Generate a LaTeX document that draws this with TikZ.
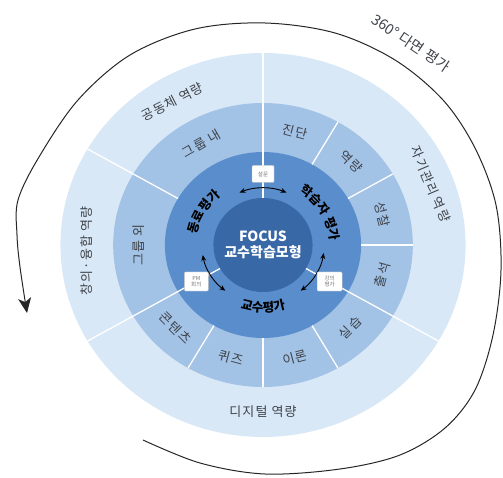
\documentclass[tikz,border=0pt]{standalone}
\usepackage{fontspec}
\setmainfont{Noto Sans CJK KR}
\newfontfamily\labelfont[LetterSpace=9]{Noto Sans CJK KR}
\usetikzlibrary{arrows.meta,decorations.text}
\definecolor{ringOut}{RGB}{217,232,247}
\definecolor{ringMid}{RGB}{162,194,230}
\definecolor{ringIn}{RGB}{90,141,204}
\definecolor{core}{RGB}{56,104,166}
\definecolor{labelGray}{RGB}{62,66,72}
\tikzset{divider/.style={draw=white,line width=1.3pt}}
\tikzset{ringLabel/.style={font=\labelfont\fontsize{13}{13}\selectfont,text=labelGray,inner sep=0pt}}
\tikzset{tagBox/.style={draw=black!25,fill=white,rounded corners=1pt,font=\fontsize{5.5}{6}\selectfont,text=black!55,align=center,inner sep=1.5pt,minimum width=22pt,minimum height=17pt}}
\tikzset{cycleArrow/.style={{Stealth[length=6pt,width=5pt]}-{Stealth[length=6pt,width=5pt]},line width=0.9pt}}
\tikzset{evalText/.style={decorate,decoration={text along path,text align=center,text={|\fontsize{12.5}{13}\selectfont\bfseries|#1}}}}

\begin{document}
\begin{tikzpicture}[x=1pt,y=1pt]
\useasboundingbox (0,0) rectangle (503,477);
\coordinate (c) at (263,232);

% 360 degree arc
\draw[line width=1pt,black!85,-{Stealth[length=15pt,width=13pt,inset=4pt]}]
  plot[smooth,tension=0.55] coordinates {(143,37) (200,14) (265,3) (340,8) (400,22)
    (445,49) (475,87) (493,142) (501,207) (496,272) (475,329) (443,377) (395,417)
    (335,444) (265,454) (195,448) (130,422) (78,377) (39,320) (18,277) (17,242)
    (20,210) (27,164)};
\node (title) [font=\fontsize{14.5}{15}\selectfont,text=labelGray,rotate=-34] at (411,434) {360°\,다면\,\,평가};

\begin{scope}[shift={(c)},xscale=1.055]
  % rings
  \fill[ringOut] (0,0) circle (192);
  \fill[ringMid] (0,0) circle (142);
  \fill[ringIn] (0,0) circle (93);
  \fill[core] (0,0) circle (47);
  % dividers
  \foreach \a in {60,30,0,300,270,240}
    \draw[divider] (\a:93) -- (\a:142);
  \draw[divider] (150:93) -- (150:192);
  \foreach \a in {90,210,330}
    \draw[divider] (\a:47) -- (\a:192);
  % outer ring
  \node (community) [ringLabel,rotate=27] at (121:167) {공동체 역량};
  \node (creative) [ringLabel,rotate=90] at (182:167) {창의·융합 역량};
  \node (digital) [ringLabel] at (270:167) {디지털 역량};
  \node (selfmgmt) [ringLabel,rotate=-67] at (21:170) {자기관리 역량};
  % middle ring
  \node (inGroup) [ringLabel,rotate=30] at (120:117) {그룹 내};
  \node (outGroup) [ringLabel,rotate=90] at (180:118) {그룹 외};
  \node (diag) [ringLabel,rotate=-15] at (75:117) {진단};
  \node (compet) [ringLabel,rotate=-45] at (45:118) {역량};
  \node (reflect) [ringLabel,rotate=-75] at (15:117) {성찰};
  \node (attend) [ringLabel,rotate=75] at (-15:117) {출석};
  \node (practice) [ringLabel,rotate=45] at (-45:117) {실습};
  \node (theory) [ringLabel,rotate=15] at (-75:117) {이론};
  \node (quiz) [ringLabel,rotate=-15] at (-105:117) {퀴즈};
  \node (content) [ringLabel,rotate=-45] at (-135:117) {콘텐츠};
  % inner cycle
  \draw[cycleArrow] (113:57) arc[start angle=113,end angle=67,radius=57];
  \draw[cycleArrow] (190:58) arc[start angle=190,end angle=232,radius=58];
  \draw[cycleArrow] (-52:58) arc[start angle=-52,end angle=-8,radius=58];
  \node (survey) [tagBox] at (90:71) {설문};
  \node (pm) [tagBox,minimum width=24pt,minimum height=19pt] at (210:73) {PM\\회의};
  \node (lecture) [tagBox,minimum width=25pt,minimum height=19pt] at (330:73) {강의\\평가};
\end{scope}

% evaluation ring labels
\path[evalText=동료평가] (c) ++(188:67 and 63) arc[start angle=188,end angle=112,x radius=67,y radius=63];
\path[evalText=학습자 평가] (c) ++(72:67 and 63) arc[start angle=72,end angle=-12,x radius=67,y radius=63];
\path[evalText=교수평가] (c) ++(235:71 and 67) arc[start angle=235,end angle=305,x radius=71,y radius=67];

\node (focus) [font=\fontsize{14}{16}\selectfont\bfseries,text=white,align=center] at (c) {FOCUS\\교수학습모형};
\end{tikzpicture}
\end{document}
